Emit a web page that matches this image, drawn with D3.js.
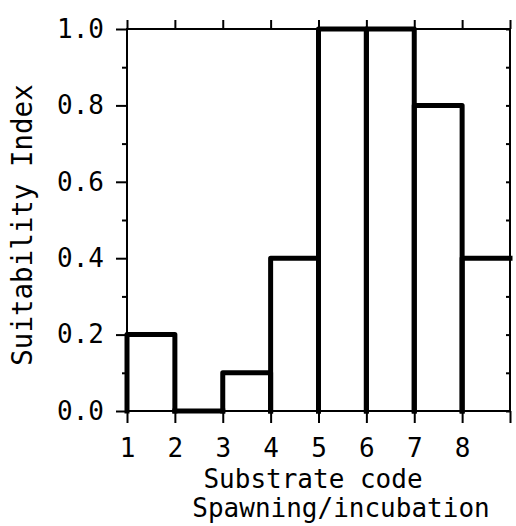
<!DOCTYPE html>
<html><head><meta charset="utf-8">
<script src="https://cdn.jsdelivr.net/npm/d3@7"></script>
<style>body{margin:0;background:#fff}svg{display:block}text{font-family:"DejaVu Sans Mono",monospace;fill:#000}</style>
</head><body><svg id="c" width="516" height="526"></svg>
<script>
const categories = [1,2,3,4,5,6,7,8];
const values = [0.2,0.0,0.1,0.4,1.0,1.0,0.8,0.4];
const xTicks = [1,2,3,4,5,6,7,8,9];
const xTickLabels = ["1","2","3","4","5","6","7","8",""];
const yTicks = [0,0.2,0.4,0.6,0.8,1.0];
const yMinor = [0.1,0.3,0.5,0.7,0.9];
const xTitle1 = "Substrate code";
const xTitle2 = "Spawning/incubation";
const yTitle = "Suitability Index";

const svg = d3.select("#c");
const x = d3.scaleLinear().domain([1,9]).range([127,510]);
const y = d3.scaleLinear().domain([0,1]).range([411,29]);
const fs = 26;

// frame
svg.append("rect").attr("x",x(1)).attr("y",y(1)).attr("width",x(9)-x(1)).attr("height",y(0)-y(1))
 .attr("fill","none").attr("stroke","#000").attr("stroke-width",2);

// bottom axis
const bx = svg.append("g").attr("transform",`translate(0,${y(0)})`)
 .call(d3.axisBottom(x).tickValues(xTicks).tickSize(12).tickPadding(14).tickFormat((d,i)=>xTickLabels[i]));
bx.select(".domain").remove();
bx.selectAll("line").attr("stroke-width",2);
bx.selectAll("text").attr("font-size",fs).attr("font-family","DejaVu Sans Mono").attr("dy","0.75em");
// top axis ticks
const tx = svg.append("g").attr("transform",`translate(0,${y(1)})`)
 .call(d3.axisTop(x).tickValues(xTicks).tickSize(9).tickFormat(""));
tx.select(".domain").remove();
tx.selectAll("line").attr("stroke-width",2);

// left axis
const ly = svg.append("g").attr("transform",`translate(${x(1)},0)`)
 .call(d3.axisLeft(y).tickValues(yTicks).tickSize(11).tickPadding(12).tickFormat(d3.format(".1f")));
ly.select(".domain").remove();
ly.selectAll("line").attr("stroke-width",2);
ly.selectAll("text").attr("font-size",fs).attr("font-family","DejaVu Sans Mono");
const lm = svg.append("g").attr("transform",`translate(${x(1)},0)`)
 .call(d3.axisLeft(y).tickValues(yMinor).tickSize(5).tickFormat(""));
lm.select(".domain").remove(); lm.selectAll("line").attr("stroke-width",2);

// right axis ticks
const ry = svg.append("g").attr("transform",`translate(${x(9)},0)`)
 .call(d3.axisLeft(y).tickValues(yTicks.concat(yMinor)).tickSize(4).tickFormat(""));
ry.select(".domain").remove(); ry.selectAll("line").attr("stroke-width",2);

// bars (thick step outlines)
svg.append("g").selectAll("path").data(categories).join("path")
 .attr("fill","none").attr("stroke","#000").attr("stroke-width",5)
 .attr("stroke-linejoin","round").attr("stroke-linecap","square")
 .attr("d",(c,i)=>{
   const x0=x(c), x1=x(c+1), yv=y(values[i]), y0=y(0);
   return i===categories.length-1
     ? `M${x0},${y0}L${x0},${yv}L${x1},${yv}`
     : `M${x0},${y0}L${x0},${yv}L${x1},${yv}L${x1},${y0}`;
 });

// titles
svg.append("text").attr("x",313).attr("y",488).attr("text-anchor","middle").attr("font-size",fs).text(xTitle1);
svg.append("text").attr("x",341).attr("y",517).attr("text-anchor","middle").attr("font-size",fs).text(xTitle2);
svg.append("text").attr("transform",`translate(32,${(y(0)+y(1))/2+5}) rotate(-90)`).attr("text-anchor","middle").attr("font-size",27.5).text(yTitle);
</script></body></html>
